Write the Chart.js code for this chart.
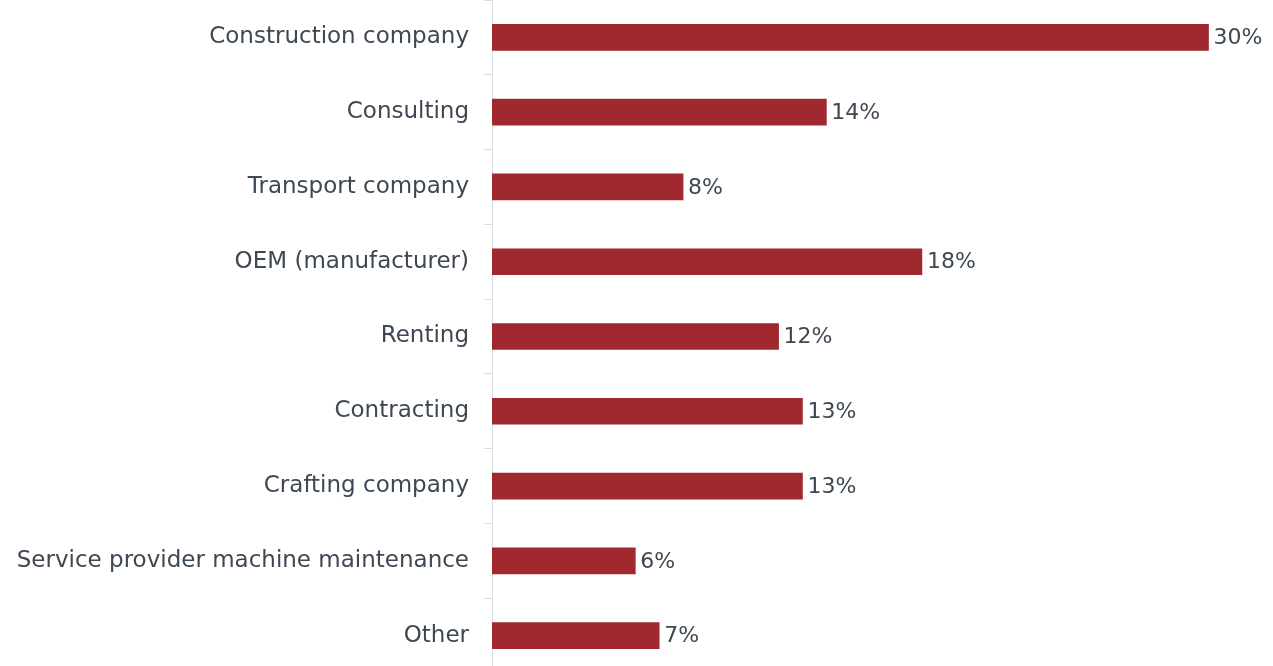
<!DOCTYPE html>
<html>
<head>
<meta charset="utf-8">
<script src="https://cdn.jsdelivr.net/npm/chart.js@4/dist/chart.umd.min.js"></script>
<style>
  html, body { margin: 0; padding: 0; background: #ffffff; overflow: hidden; }
  #wrap { position: relative; width: 1273px; height: 673px; }
</style>
</head>
<body>
<div id="wrap"><canvas id="chart"></canvas></div>
<script>
// Company types and share of respondents (%)
const categories = [
  'Construction company',
  'Consulting',
  'Transport company',
  'OEM (manufacturer)',
  'Renting',
  'Contracting',
  'Crafting company',
  'Service provider machine maintenance',
  'Other'
];
const shares = [30, 14, 8, 18, 12, 13, 13, 6, 7];

const BAR_COLOR = '#a0292f';
const TEXT_COLOR = '#3e4852';
const FONT = '"DejaVu Sans", "Noto Sans", sans-serif';

// Writes the percentage just past the end of each bar
const valueLabels = {
  id: 'valueLabels',
  afterDatasetsDraw(chart) {
    const { ctx } = chart;
    const meta = chart.getDatasetMeta(0);
    ctx.save();
    ctx.font = '22px ' + FONT;
    ctx.fillStyle = TEXT_COLOR;
    ctx.textAlign = 'left';
    ctx.textBaseline = 'middle';
    meta.data.forEach((bar, i) => {
      ctx.fillText(shares[i] + '%', bar.x + 5, bar.y + 1);
    });
    ctx.restore();
  }
};

new Chart(document.getElementById('chart'), {
  type: 'bar',
  data: {
    labels: categories,
    datasets: [{
      data: shares,
      backgroundColor: BAR_COLOR,
      borderWidth: 0,
      barThickness: 26
    }]
  },
  options: {
    indexAxis: 'y',
    responsive: true,
    maintainAspectRatio: false,
    animation: false,
    layout: { padding: 0 },
    plugins: {
      legend: { display: false },
      tooltip: { enabled: false }
    },
    scales: {
      x: {
        display: false,
        min: 0,
        max: 32.7
      },
      y: {
        afterFit(scale) {
          scale.width = 492;
          scale.paddingTop = 0;
          scale.paddingBottom = 0;
        },
        border: { display: true, color: '#d5dce3', width: 1 },
        grid: {
          drawOnChartArea: false,
          drawTicks: true,
          tickLength: 8,
          color: '#d5dce3',
          offset: true
        },
        ticks: {
          padding: 15,
          color: TEXT_COLOR,
          font: { family: FONT, size: 23 }
        }
      }
    }
  },
  plugins: [valueLabels]
});
</script>
</body>
</html>
